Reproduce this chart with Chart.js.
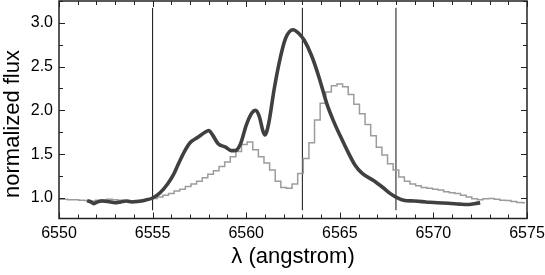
<!DOCTYPE html>
<html lang="en">
<head>
    <meta charset="UTF-8">
    <title>Normalized flux</title>
    <script src="https://cdn.jsdelivr.net/npm/chart.js"></script>
    <style>
        body { margin: 0; background: #fff; }
        .wrap { width: 545px; height: 275px; }
    </style>
</head>
<body>
    <div class="wrap"><canvas id="chart"></canvas></div>

    <script>
        // axis ticks
        const xTicks = [6550, 6555, 6560, 6565, 6570, 6575];
        const yTicks = [1.0, 1.5, 2.0, 2.5, 3.0];
        // reference wavelengths (vertical markers)
        const markerLambda = [6555, 6563, 6568];

        // dark (thick) spectrum
        const darkLambda = [6551.5, 6551.7, 6551.85, 6552.0, 6552.3, 6552.6, 6553.0, 6553.3, 6553.6, 6553.9,
            6554.2, 6554.6, 6555.0, 6555.4, 6555.8, 6556.1, 6556.4, 6556.7, 6557.0, 6557.4,
            6557.8, 6558.0, 6558.2, 6558.5, 6558.9, 6559.2, 6559.4, 6559.7, 6560.0, 6560.3,
            6560.5, 6560.7, 6560.9, 6561.0, 6561.2, 6561.5, 6561.8, 6562.1, 6562.5, 6562.8,
            6563.1, 6563.5, 6563.9, 6564.3, 6564.7, 6565.0, 6565.4, 6565.8, 6566.2, 6566.8,
            6567.3, 6567.7, 6568.0, 6568.4, 6569.0, 6569.6, 6570.2, 6570.8, 6571.4, 6571.8,
            6572.2, 6572.5];
        const darkFlux = [0.97, 0.955, 0.935, 0.95, 0.965, 0.96, 0.945, 0.955, 0.965, 0.955,
            0.96, 0.975, 1.0, 1.06, 1.16, 1.26, 1.40, 1.53, 1.63, 1.69,
            1.75, 1.77, 1.72, 1.62, 1.58, 1.54, 1.54, 1.62, 1.83, 1.97,
            2.0, 1.93, 1.76, 1.72, 1.85, 2.25, 2.58, 2.82, 2.92, 2.88,
            2.80, 2.62, 2.37, 2.08, 1.86, 1.72, 1.54, 1.38, 1.28, 1.20,
            1.12, 1.05, 1.01, 0.975, 0.965, 0.955, 0.945, 0.94, 0.93, 0.925,
            0.935, 0.945];

        // gray (binned) spectrum
        const grayLambda = [6550.0, 6550.3, 6550.6, 6550.9, 6551.2, 6551.5, 6551.8, 6552.1, 6552.4, 6552.7,
            6553.0, 6553.3, 6553.6, 6553.9, 6554.2, 6554.5, 6554.8, 6555.1, 6555.4, 6555.7,
            6556.0, 6556.3, 6556.6, 6556.9, 6557.2, 6557.5, 6557.8, 6558.1, 6558.4, 6558.7,
            6559.0, 6559.3, 6559.6, 6559.9, 6560.2, 6560.5, 6560.8, 6561.1, 6561.4, 6561.7,
            6562.0, 6562.3, 6562.6, 6562.9, 6563.2, 6563.5, 6563.8, 6564.1, 6564.4, 6564.7,
            6565.0, 6565.3, 6565.6, 6565.9, 6566.2, 6566.5, 6566.8, 6567.1, 6567.4, 6567.7,
            6568.0, 6568.3, 6568.6, 6568.9, 6569.2, 6569.5, 6569.8, 6570.1, 6570.4, 6570.7,
            6571.0, 6571.3, 6571.6, 6571.9, 6572.2, 6572.5, 6572.8, 6573.1, 6573.4, 6573.7,
            6574.0, 6574.3, 6574.6, 6574.9];
        const grayFlux = [0.985, 0.985, 0.98, 0.98, 0.975, 0.97, 0.965, 0.975, 0.98, 0.985,
            0.98, 0.975, 0.97, 0.965, 0.97, 0.975, 0.985, 0.995, 1.01, 1.03,
            1.05, 1.08, 1.10, 1.13, 1.16, 1.19, 1.23, 1.27, 1.31, 1.36,
            1.41, 1.47, 1.53, 1.61, 1.64, 1.55, 1.47, 1.40, 1.32, 1.19,
            1.12, 1.11, 1.16, 1.28, 1.45, 1.63, 1.89, 2.08, 2.21, 2.28,
            2.30, 2.27, 2.18, 2.07, 1.96, 1.84, 1.71, 1.58, 1.49, 1.39,
            1.32, 1.24, 1.19, 1.16, 1.14, 1.12, 1.11, 1.10, 1.09, 1.07,
            1.06, 1.05, 1.03, 1.01, 0.99, 0.98, 0.99, 0.995, 0.985, 0.975,
            0.97, 0.96, 0.95, 0.945];

        const FONT = '"Liberation Sans", Arial, sans-serif';

        const toPoints = (xs, ys) => xs.map((x, i) => ({ x: x, y: ys[i] }));

        const markerSets = markerLambda.map(l => ({
            data: [{ x: l, y: 0.86 }, { x: l, y: 3.17 }],
            borderColor: '#111',
            borderWidth: 1,
            pointRadius: 0,
            order: 3
        }));

        // frame, inward ticks and axis titles
        const framePlugin = {
            id: 'frame',
            afterDraw(chart) {
                const { ctx, chartArea: a, scales: { x, y } } = chart;
                ctx.save();
                ctx.strokeStyle = '#222';
                ctx.lineWidth = 1;
                ctx.beginPath();
                for (let v = 6550; v <= 6575; v++) {
                    const px = Math.round(x.getPixelForValue(v)) + 0.5;
                    const len = v % 5 === 0 ? 6 : 4;
                    ctx.moveTo(px, a.bottom); ctx.lineTo(px, a.bottom - len);
                    ctx.moveTo(px, a.top); ctx.lineTo(px, a.top + len);
                }
                for (let v = 1.0; v <= 3.25; v += 0.25) {
                    const py = Math.round(y.getPixelForValue(v)) + 0.5;
                    const len = Math.abs(v * 2 - Math.round(v * 2)) < 1e-6 ? 6 : 4;
                    ctx.moveTo(a.left, py); ctx.lineTo(a.left + len, py);
                    ctx.moveTo(a.right, py); ctx.lineTo(a.right - len, py);
                }
                ctx.stroke();
                ctx.lineWidth = 1.5;
                ctx.strokeRect(a.left, a.top, a.right - a.left, a.bottom - a.top);

                ctx.fillStyle = '#000';
                ctx.font = '22px ' + FONT;
                ctx.textAlign = 'center';
                ctx.textBaseline = 'alphabetic';
                ctx.fillText('λ (angstrom)', (a.left + a.right) / 2, 263);
                ctx.translate(19, 124);
                ctx.rotate(-Math.PI / 2);
                ctx.fillText('normalized flux', 0, 0);
                ctx.restore();
            }
        };

        const ctx = document.getElementById('chart').getContext('2d');
        new Chart(ctx, {
            type: 'line',
            data: {
                datasets: [
                    ...markerSets,
                    {
                        data: toPoints(grayLambda, grayFlux),
                        borderColor: '#9c9c9c',
                        borderWidth: 1.5,
                        stepped: 'middle',
                        pointRadius: 0,
                        order: 2
                    },
                    {
                        data: toPoints(darkLambda, darkFlux),
                        borderColor: '#404040',
                        borderWidth: 3.6,
                        tension: 0.4,
                        cubicInterpolationMode: 'monotone',
                        pointRadius: 0,
                        order: 1
                    }
                ]
            },
            options: {
                responsive: true,
                maintainAspectRatio: false,
                animation: false,
                layout: { padding: { left: 0, top: 1, right: 18, bottom: 0 } },
                plugins: { legend: { display: false }, tooltip: { enabled: false } },
                scales: {
                    x: {
                        type: 'linear',
                        min: 6550,
                        max: 6575,
                        grid: { display: false, drawTicks: false },
                        border: { display: false },
                        afterBuildTicks: s => { s.ticks = xTicks.map(v => ({ value: v })); },
                        afterFit: s => { s.height = 56.5; s.paddingLeft = 0; s.paddingRight = 0; },
                        ticks: {
                            padding: 5,
                            color: '#000',
                            font: { family: FONT, size: 16 },
                            maxRotation: 0,
                            callback: v => String(v)
                        }
                    },
                    y: {
                        min: 0.766,
                        max: 3.248,
                        grid: { display: false, drawTicks: false },
                        border: { display: false },
                        afterBuildTicks: s => { s.ticks = yTicks.map(v => ({ value: v })); },
                        afterFit: s => { s.width = 59; s.paddingTop = 0; s.paddingBottom = 0; },
                        ticks: {
                            padding: 6,
                            color: '#000',
                            font: { family: FONT, size: 16 },
                            callback: v => Number(v).toFixed(1)
                        }
                    }
                }
            },
            plugins: [framePlugin]
        });
    </script>
</body>
</html>
